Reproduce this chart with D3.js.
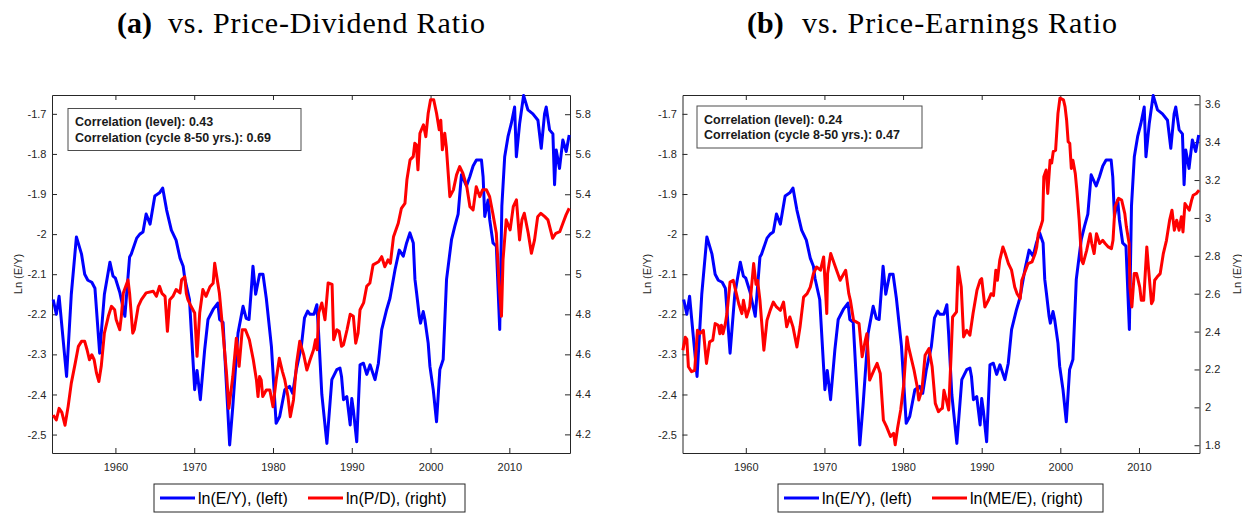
<!DOCTYPE html>
<html>
<head>
<meta charset="utf-8">
<script src="https://cdn.jsdelivr.net/npm/d3@7"></script>
<style>
  body { margin: 0; background: #fff; }
  svg text { font-family: "Liberation Sans", Arial, Helvetica, sans-serif; }
</style>
</head>
<body>
<svg id="chart" width="1242" height="513"></svg>
<script>
// ln(E/Y), left axis, same series in both panels
const eyData = [
  [1952.1,-2.163],[1952.5,-2.20],[1952.85,-2.155],[1953.3,-2.25],[1953.8,-2.355],[1954.4,-2.15],[1955.05,-2.007],
  [1955.7,-2.05],[1956.1,-2.10],[1956.5,-2.115],[1957.0,-2.12],[1957.4,-2.135],[1958.0,-2.297],[1958.6,-2.15],
  [1959.3,-2.07],[1959.7,-2.105],[1960.0,-2.11],[1960.55,-2.145],[1961.2,-2.205],[1961.8,-2.057],[1962.0,-2.05],
  [1962.7,-2.01],[1963.1,-2.0],[1963.5,-1.995],[1963.9,-1.95],[1964.4,-1.975],[1965.0,-1.905],[1965.6,-1.897],
  [1966.0,-1.885],[1966.5,-1.94],[1967.1,-1.99],[1967.7,-2.015],[1968.2,-2.06],[1968.6,-2.08],[1968.8,-2.11],
  [1969.4,-2.163],[1970.06,-2.388],[1970.36,-2.34],[1970.78,-2.413],[1971.33,-2.288],[1971.75,-2.213],[1972.4,-2.188],
  [1973.0,-2.172],[1973.23,-2.213],[1973.66,-2.22],[1974.5,-2.526],[1974.9,-2.43],[1975.56,-2.247],[1976.2,-2.18],
  [1976.6,-2.21],[1976.96,-2.213],[1977.25,-2.138],[1977.46,-2.08],[1977.8,-2.15],[1978.3,-2.10],[1978.73,-2.10],
  [1979.15,-2.16],[1979.8,-2.28],[1980.4,-2.472],[1980.85,-2.455],[1981.5,-2.388],[1982.1,-2.38],[1982.5,-2.397],
  [1982.96,-2.338],[1983.6,-2.28],[1984.0,-2.209],[1984.4,-2.192],[1984.7,-2.20],[1985.2,-2.2],[1985.57,-2.176],
  [1985.8,-2.25],[1986.2,-2.40],[1986.84,-2.522],[1987.47,-2.363],[1988.1,-2.338],[1988.5,-2.334],[1988.7,-2.355],
  [1988.95,-2.413],[1989.37,-2.405],[1989.8,-2.476],[1990.0,-2.41],[1990.21,-2.44],[1990.63,-2.518],[1991.05,-2.326],
  [1991.48,-2.322],[1991.9,-2.35],[1992.32,-2.326],[1992.95,-2.363],[1993.38,-2.322],[1993.8,-2.238],[1994.43,-2.188],
  [1994.85,-2.16],[1995.49,-2.089],[1996.03,-2.04],[1996.54,-2.055],[1996.96,-2.022],[1997.38,-1.997],[1997.81,-2.022],
  [1998.02,-2.113],[1998.23,-2.147],[1998.57,-2.205],[1998.73,-2.222],[1999.07,-2.193],[1999.28,-2.213],[1999.7,-2.272],
  [1999.92,-2.33],[2000.34,-2.388],[2000.76,-2.468],[2001.18,-2.338],[2001.6,-2.313],[2002.03,-2.113],[2002.66,-2.014],
  [2003.08,-1.98],[2003.5,-1.95],[2003.92,-1.852],[2004.56,-1.88],[2004.98,-1.857],[2005.4,-1.83],[2005.82,-1.815],
  [2006.46,-1.815],[2006.67,-1.857],[2006.88,-1.956],[2007.3,-1.915],[2007.51,-1.964],[2007.93,-2.022],[2008.35,-2.03],
  [2008.78,-2.238],[2009.05,-1.93],[2009.41,-1.807],[2009.83,-1.757],[2010.25,-1.724],[2010.67,-1.683],[2010.89,-1.807],
  [2011.31,-1.724],[2011.81,-1.654],[2012.36,-1.69],[2012.99,-1.70],[2013.63,-1.716],[2014.05,-1.786],[2014.47,-1.70],
  [2014.68,-1.683],[2015.11,-1.74],[2015.53,-1.75],[2015.74,-1.877],[2015.95,-1.79],[2016.37,-1.836],[2016.79,-1.765],
  [2017.22,-1.794],[2017.6,-1.753]
]

// ln(P/D), right axis of panel (a)
const pdData = [
  [1952.1,4.297],[1952.5,4.272],[1952.85,4.33],[1953.2,4.31],[1953.6,4.246],[1954.0,4.34],[1954.4,4.456],[1954.9,4.556],
  [1955.3,4.64],[1955.7,4.665],[1956.1,4.665],[1956.4,4.623],[1956.7,4.573],[1957.0,4.598],[1957.3,4.573],[1957.6,4.506],
  [1957.9,4.464],[1958.2,4.54],[1958.6,4.706],[1959.1,4.79],[1959.5,4.84],[1959.9,4.823],[1960.1,4.773],[1960.55,4.723],
  [1960.75,4.79],[1961.0,4.907],[1961.6,4.972],[1961.8,4.905],[1962.2,4.706],[1962.4,4.723],[1962.9,4.84],[1963.3,4.873],
  [1963.9,4.907],[1964.8,4.915],[1965.2,4.89],[1965.6,4.94],[1965.9,4.905],[1966.3,4.89],[1966.6,4.715],[1966.9,4.873],
  [1967.3,4.89],[1967.7,4.924],[1968.2,4.907],[1968.4,4.972],[1968.8,4.988],[1969.0,4.905],[1969.2,4.873],[1969.6,4.84],
  [1970.06,4.807],[1970.36,4.59],[1970.7,4.807],[1971.1,4.924],[1971.5,4.89],[1972.0,4.938],[1972.4,4.955],[1972.6,5.055],
  [1972.8,5.005],[1973.2,4.905],[1973.66,4.706],[1974.1,4.506],[1974.4,4.33],[1974.9,4.489],[1975.35,4.681],[1975.7,4.54],
  [1976.1,4.723],[1976.5,4.723],[1977.0,4.673],[1977.5,4.573],[1977.9,4.472],[1978.1,4.389],[1978.3,4.489],[1978.5,4.472],
  [1978.7,4.389],[1979.15,4.422],[1979.6,4.422],[1980.0,4.338],[1980.4,4.472],[1980.8,4.58],[1981.2,4.514],[1981.5,4.472],
  [1981.9,4.389],[1982.2,4.288],[1982.6,4.372],[1983.0,4.556],[1983.4,4.665],[1983.9,4.598],[1984.3,4.522],[1984.7,4.572],
  [1985.15,4.623],[1985.4,4.673],[1985.6,4.623],[1985.8,4.807],[1986.2,4.857],[1986.6,4.773],[1987.0,4.957],[1987.5,4.949],
  [1987.7,4.673],[1988.1,4.723],[1988.4,4.715],[1988.7,4.64],[1988.95,4.648],[1989.4,4.723],[1989.8,4.80],[1990.2,4.79],
  [1990.5,4.656],[1990.8,4.706],[1991.05,4.823],[1991.5,4.857],[1991.9,4.94],[1992.3,4.957],[1992.7,5.047],[1993.4,5.063],
  [1993.8,5.088],[1994.2,5.038],[1994.6,5.072],[1994.9,5.055],[1995.3,5.188],[1995.9,5.255],[1996.3,5.33],[1996.75,5.355],
  [1997.0,5.472],[1997.4,5.572],[1997.8,5.588],[1998.0,5.655],[1998.2,5.647],[1998.4,5.522],[1998.65,5.705],[1999.1,5.747],
  [1999.4,5.688],[1999.7,5.805],[2000.0,5.872],[2000.4,5.872],[2000.76,5.805],[2001.1,5.722],[2001.3,5.77],[2001.5,5.622],
  [2001.8,5.705],[2002.0,5.638],[2002.45,5.388],[2002.9,5.422],[2003.3,5.497],[2003.7,5.538],[2004.1,5.505],[2004.6,5.438],
  [2005.0,5.338],[2005.4,5.322],[2005.8,5.438],[2006.25,5.388],[2006.6,5.422],[2007.1,5.422],[2007.5,5.388],[2007.9,5.305],
  [2008.35,5.205],[2008.7,4.95],[2009.0,4.79],[2009.2,5.072],[2009.6,5.272],[2010.1,5.222],[2010.5,5.338],[2010.9,5.372],
  [2011.3,5.172],[2011.6,5.272],[2011.9,5.305],[2012.4,5.205],[2012.8,5.105],[2013.2,5.172],[2013.6,5.288],[2014.0,5.305],
  [2014.5,5.288],[2014.9,5.272],[2015.5,5.18],[2015.9,5.205],[2016.4,5.213],[2016.8,5.255],[2017.2,5.297],[2017.6,5.33]
]

// ln(ME/E), right axis of panel (b)
const meData = [
  [1952.0,2.302],[1952.3,2.37],[1952.5,2.36],[1952.7,2.214],[1953.1,2.188],[1953.5,2.195],[1953.85,2.407],[1954.2,2.39],
  [1954.6,2.407],[1955.0,2.232],[1955.4,2.346],[1955.8,2.355],[1956.1,2.442],[1956.5,2.433],[1956.7,2.389],[1956.9,2.433],
  [1957.1,2.389],[1957.4,2.442],[1957.6,2.495],[1958.0,2.662],[1958.4,2.671],[1958.8,2.60],[1959.1,2.547],[1959.5,2.495],
  [1959.7,2.565],[1960.1,2.477],[1960.5,2.53],[1961.0,2.759],[1961.3,2.65],[1961.5,2.67],[1961.8,2.565],[1962.3,2.302],
  [1962.7,2.46],[1963.1,2.512],[1963.5,2.556],[1963.9,2.53],[1964.4,2.512],[1964.8,2.556],[1965.2,2.425],[1965.6,2.477],
  [1966.0,2.425],[1966.5,2.319],[1966.9,2.425],[1967.35,2.582],[1967.8,2.6],[1968.2,2.635],[1968.6,2.706],[1969.0,2.741],
  [1969.5,2.724],[1969.9,2.794],[1970.3,2.495],[1970.4,2.706],[1970.8,2.812],[1971.4,2.741],[1972.0,2.671],[1972.7,2.724],
  [1973.1,2.6],[1973.3,2.565],[1973.7,2.46],[1974.4,2.442],[1974.8,2.267],[1975.2,2.354],[1975.4,2.389],[1975.75,2.144],
  [1976.3,2.196],[1976.7,2.232],[1977.1,2.179],[1977.5,1.933],[1977.9,1.898],[1978.4,1.846],[1978.8,1.863],[1979.0,1.802],
  [1979.3,1.89],[1979.7,1.986],[1980.1,2.126],[1980.5,2.372],[1980.7,2.319],[1981.4,2.196],[1981.8,2.109],[1982.0,2.039],
  [1982.4,2.091],[1982.8,2.275],[1983.3,2.31],[1983.7,2.214],[1984.1,2.021],[1984.5,1.977],[1984.8,1.99],[1985.0,1.995],
  [1985.2,2.09],[1985.5,2.039],[1985.8,1.986],[1986.1,2.267],[1986.3,2.477],[1986.8,2.504],[1987.0,2.741],[1987.4,2.635],
  [1987.7,2.372],[1988.1,2.407],[1988.5,2.381],[1988.9,2.495],[1989.4,2.618],[1989.8,2.671],[1990.0,2.68],[1990.4,2.53],
  [1990.85,2.565],[1991.2,2.6],[1991.5,2.59],[1991.8,2.724],[1992.0,2.671],[1992.3,2.777],[1992.7,2.847],[1993.0,2.812],
  [1993.4,2.759],[1993.8,2.724],[1994.2,2.635],[1994.5,2.6],[1994.9,2.574],[1995.1,2.671],[1995.5,2.715],[1995.9,2.759],
  [1996.4,2.768],[1996.8,2.812],[1997.0,2.847],[1997.2,2.917],[1997.5,2.953],[1997.75,2.988],[1997.9,3.217],[1998.2,3.253],
  [1998.4,3.129],[1998.7,3.305],[1998.9,3.29],[1999.1,3.35],[1999.4,3.358],[1999.7,3.552],[1999.95,3.632],[2000.4,3.623],
  [2000.6,3.588],[2000.8,3.517],[2001.0,3.402],[2001.2,3.394],[2001.4,3.261],[2001.6,3.305],[2001.9,3.235],[2002.1,3.147],
  [2002.4,2.988],[2002.7,2.776],[2002.9,2.759],[2003.35,2.829],[2003.8,2.917],[2004.0,2.865],[2004.3,2.812],[2004.6,2.917],
  [2005.0,2.865],[2005.4,2.882],[2005.7,2.865],[2006.1,2.847],[2006.5,2.838],[2006.7,2.882],[2006.95,3.058],[2007.4,3.103],
  [2007.8,3.094],[2008.2,3.023],[2008.4,2.953],[2008.75,2.865],[2008.85,2.635],[2009.1,2.53],[2009.4,2.706],[2009.7,2.706],
  [2010.1,2.635],[2010.3,2.565],[2010.6,2.565],[2011.0,2.847],[2011.2,2.741],[2011.6,2.547],[2011.8,2.565],[2012.0,2.671],
  [2012.3,2.688],[2012.7,2.706],[2013.1,2.812],[2013.5,2.882],[2013.9,2.988],[2014.2,3.041],[2014.5,2.935],[2014.8,2.988],
  [2015.1,2.935],[2015.4,3.006],[2015.6,2.926],[2015.85,3.076],[2016.1,3.06],[2016.4,3.041],[2016.7,3.094],[2016.9,3.12],
  [2017.3,3.129],[2017.65,3.147]
]

const yearTicks = [1960, 1970, 1980, 1990, 2000, 2010]
const eyTicks = [-2.5, -2.4, -2.3, -2.2, -2.1, -2, -1.9, -1.8, -1.7]
const pdTicks = [4.2, 4.4, 4.6, 4.8, 5, 5.2, 5.4, 5.6, 5.8]
const meTicks = [1.8, 2, 2.2, 2.4, 2.6, 2.8, 3, 3.2, 3.4, 3.6]
const yearDomain = [1951.95, 2017.7]
const eyDomain = [-2.546, -1.653]

const plotTop = 95
const plotBottom = 453
const axisColor = '#262626'

const panels = [
  {left: 52, right: 570, tag: '(a)', tagX: 117, title: 'vs. Price-Dividend Ratio', titleX: 168, titleW: 317,
   red: pdData, redDomain: [4.107, 5.896], redTicks: pdTicks, corr: ['0.43', '0.69'],
   box: {x: 68, y: 108.5, w: 233, h: 42}, leftLabelX: 18, rightLabelX: null,
   legend: {x: 154, w: 311, redText: 'ln(P/D), (right)', redX: 308}},
  {left: 682.5, right: 1199.5, tag: '(b)', tagX: 747, title: 'vs. Price-Earnings Ratio', titleX: 802, titleW: 315,
   red: meData, redDomain: [1.759, 3.649], redTicks: meTicks, corr: ['0.24', '0.47'],
   box: {x: 697, y: 106, w: 225, h: 42}, leftLabelX: 647, rightLabelX: 1237,
   legend: {x: 778, w: 325, redText: 'ln(ME/E), (right)', redX: 932}}
]

const svg = d3.select('#chart')
const fmt = d => String(+d.toFixed(1))

function drawPanel(p) {
  const g = svg.append('g')
  const x = d3.scaleLinear().domain(yearDomain).range([p.left, p.right])
  const yL = d3.scaleLinear().domain(eyDomain).range([plotBottom, plotTop])
  const yR = d3.scaleLinear().domain(p.redDomain).range([plotBottom, plotTop])

  //title: bold tag + serif text
  g.append('text').attr('x', p.tagX).attr('y', 33)
    .style('font-family', '"Liberation Serif", "Times New Roman", serif')
    .style('font-size', '30px').style('font-weight', 'bold').text(p.tag)
  g.append('text').attr('x', p.titleX).attr('y', 33)
    .attr('textLength', p.titleW).attr('lengthAdjust', 'spacing')
    .style('font-family', '"Liberation Serif", "Times New Roman", serif')
    .style('font-size', '30px').text(p.title)

  // axes, ticks inside
  const axes = [
    [d3.axisBottom(x).tickValues(yearTicks).tickSize(-5).tickPadding(10.5).tickFormat(d3.format('d')), `translate(0,${plotBottom})`],
    [d3.axisTop(x).tickValues(yearTicks).tickSize(-5).tickFormat(''), `translate(0,${plotTop})`],
    [d3.axisLeft(yL).tickValues(eyTicks).tickSize(-5).tickPadding(5.5).tickFormat(fmt), `translate(${p.left},0)`],
    [d3.axisRight(yR).tickValues(p.redTicks).tickSize(-5).tickPadding(5.5).tickFormat(fmt), `translate(${p.right},0)`]
  ]
  for (const [ax, tr] of axes) {
    const a = g.append('g').attr('transform', tr).call(ax.tickSizeOuter(0))
    a.select('.domain').attr('stroke', axisColor)
    a.selectAll('.tick line').attr('stroke', axisColor)
    a.selectAll('text').attr('fill', axisColor).style('font-size', '11px')
    a.attr('font-family', null)
  }

  // y labels
  const labels = [p.leftLabelX, p.rightLabelX].filter(v => v !== null)
  for (const lx of labels) {
    g.append('text').attr('transform', `translate(${lx},${(plotTop + plotBottom) / 2}) rotate(-90)`)
      .attr('text-anchor', 'middle').attr('dy', '0.35em')
      .attr('fill', axisColor).style('font-size', '11px').text('Ln (E/Y)')
  }

  // series
  g.append('path').datum(eyData)
    .attr('d', d3.line().x(d => x(d[0])).y(d => yL(d[1])))
    .attr('fill', 'none').attr('stroke', '#0000ff').attr('stroke-width', 3).attr('stroke-linejoin', 'round')
  g.append('path').datum(p.red)
    .attr('d', d3.line().x(d => x(d[0])).y(d => yR(d[1])))
    .attr('fill', 'none').attr('stroke', '#ff0000').attr('stroke-width', 3).attr('stroke-linejoin', 'round')

  // correlation box
  g.append('rect').attr('x', p.box.x).attr('y', p.box.y).attr('width', p.box.w).attr('height', p.box.h)
    .attr('fill', '#fff').attr('stroke', '#4d4d4d').attr('stroke-width', 1)
  const lines = ['Correlation (level): ' + p.corr[0], 'Correlation (cycle 8-50 yrs.): ' + p.corr[1]]
  lines.forEach((t, i) => {
    g.append('text').attr('x', p.box.x + 7).attr('y', p.box.y + 13.5 + i * 15.5).attr('dy', '0.35em')
      .style('font-size', '12.5px').style('font-weight', 'bold').attr('fill', '#1a1a1a').text(t)
  })

  // legend
  const L = p.legend
  g.append('rect').attr('x', L.x).attr('y', 484).attr('width', L.w).attr('height', 28)
    .attr('fill', '#fff').attr('stroke', axisColor).attr('stroke-width', 1)
  const items = [['#0000ff', L.x + 6, 'ln(E/Y), (left)'], ['#ff0000', L.redX, L.redText]]
  for (const [c, lx, t] of items) {
    g.append('line').attr('x1', lx).attr('x2', lx + 35).attr('y1', 498).attr('y2', 498)
      .attr('stroke', c).attr('stroke-width', 3)
    g.append('text').attr('x', lx + 38).attr('y', 498).attr('dy', '0.35em')
      .style('font-size', '16px').attr('fill', '#000').text(t)
  }
}

panels.forEach(drawPanel)
</script>
</body>
</html>
